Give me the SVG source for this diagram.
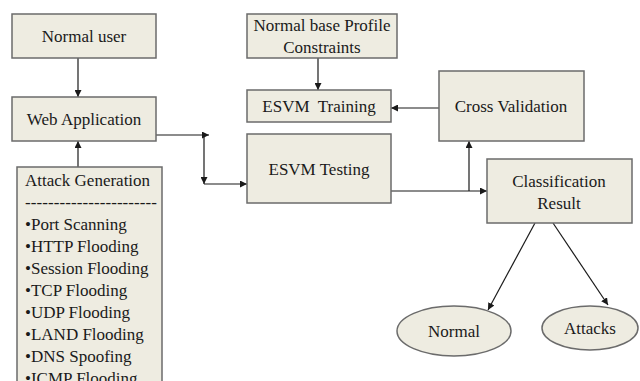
<svg xmlns="http://www.w3.org/2000/svg" width="640" height="381" viewBox="0 0 640 381" font-family="'Liberation Serif', 'Times New Roman', Tinos, 'DejaVu Serif', serif">
<style>
.box{fill:#EEECE1;stroke:#6b6b6b;stroke-width:1.5}
text{font-family:'Liberation Serif','Times New Roman',Tinos,'DejaVu Serif',serif;font-size:17px;fill:#1a1a1a}
.c{text-anchor:middle}
.ln{fill:none;stroke:#1a1a1a;stroke-width:1.2}
</style>
<defs>
<marker id="ah" viewBox="0 0 10 10" refX="10" refY="5" markerWidth="7" markerHeight="7" markerUnits="userSpaceOnUse" orient="auto">
<path d="M0,0 L10,5 L0,10 z" fill="#1a1a1a"/>
</marker>
</defs>
<rect width="640" height="381" fill="#ffffff"/>
<g id="connectors">
<path class="ln" d="M78,58 V97" marker-end="url(#ah)"/>
<path class="ln" d="M78,167 V141" marker-end="url(#ah)"/>
<path class="ln" d="M156,135 H209" marker-end="url(#ah)"/>
<path class="ln" d="M204,135 V184" marker-end="url(#ah)"/>
<path class="ln" d="M204,184 H247" marker-end="url(#ah)"/>
<path class="ln" d="M318,58 V90" marker-end="url(#ah)"/>
<path class="ln" d="M439,108 H391" marker-end="url(#ah)"/>
<path class="ln" d="M391,191 H487" marker-end="url(#ah)"/>
<path class="ln" d="M469,191 V141" marker-end="url(#ah)"/>
<path class="ln" d="M535,223 L488,310" marker-end="url(#ah)"/>
<path class="ln" d="M553,223 L608,305" marker-end="url(#ah)"/>
</g>
<g id="normal-user">
<rect class="box" x="12" y="14" width="144" height="44"/>
<text class="c" x="84" y="42">Normal user</text>
</g>
<g id="web-application">
<rect class="box" x="12" y="97" width="144" height="44"/>
<text class="c" x="84" y="125">Web Application</text>
</g>
<g id="attack-generation">
<rect class="box" x="17" y="167" width="145" height="220"/>
<text x="25" y="186">Attack Generation</text>
<text x="25" y="208" textLength="132" lengthAdjust="spacing">-----------------------</text>
<text x="25" y="230">•Port Scanning</text>
<text x="25" y="252">•HTTP Flooding</text>
<text x="25" y="274">•Session Flooding</text>
<text x="25" y="296">•TCP Flooding</text>
<text x="25" y="318">•UDP Flooding</text>
<text x="25" y="340">•LAND Flooding</text>
<text x="25" y="362">•DNS Spoofing</text>
<text x="25" y="384">•ICMP Flooding</text>
</g>
<g id="profile-constraints">
<rect class="box" x="247" y="14" width="150" height="44"/>
<text class="c" x="322" y="31">Normal base Profile</text>
<text class="c" x="322" y="53">Constraints</text>
</g>
<g id="esvm-training">
<rect class="box" x="247" y="90" width="144" height="32"/>
<text class="c" x="319" y="112" xml:space="preserve">ESVM  Training</text>
</g>
<g id="esvm-testing">
<rect class="box" x="247" y="134" width="144" height="69"/>
<text class="c" x="319" y="175">ESVM Testing</text>
</g>
<g id="cross-validation">
<rect class="box" x="439" y="71" width="145" height="70"/>
<text class="c" x="511" y="112">Cross Validation</text>
</g>
<g id="classification-result">
<rect class="box" x="487" y="159" width="145" height="64"/>
<text class="c" x="559" y="187">Classification</text>
<text class="c" x="559" y="209">Result</text>
</g>
<g id="normal">
<ellipse class="box" cx="454" cy="331" rx="57" ry="25"/>
<text class="c" x="454" y="337">Normal</text>
</g>
<g id="attacks">
<ellipse class="box" cx="590" cy="328" rx="48" ry="22"/>
<text class="c" x="590" y="334">Attacks</text>
</g>
</svg>
